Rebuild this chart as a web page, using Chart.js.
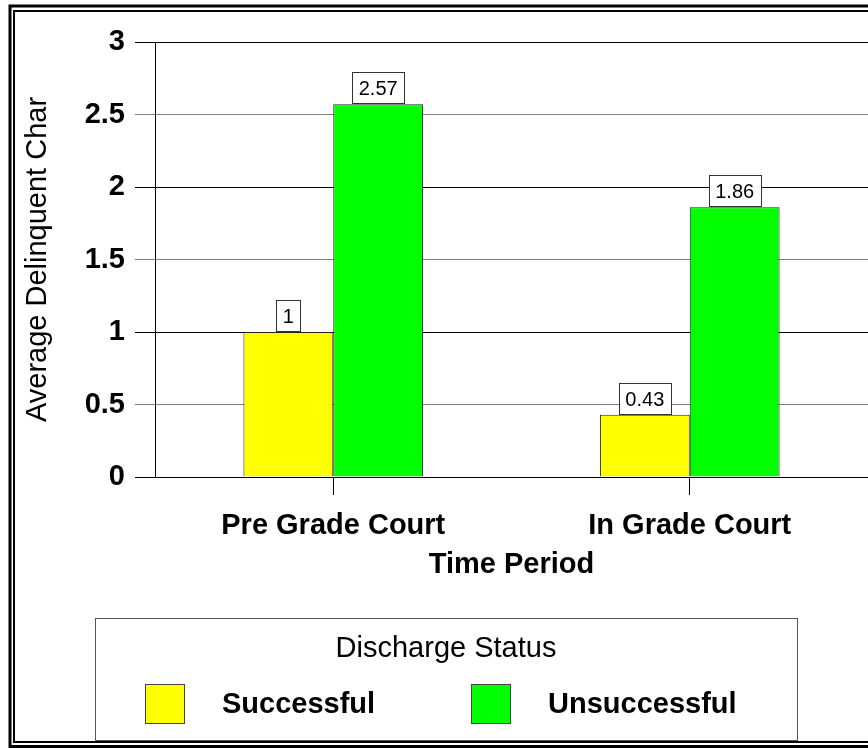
<!DOCTYPE html>
<html>
<head>
<meta charset="utf-8">
<script src="https://cdn.jsdelivr.net/npm/chart.js@4/dist/chart.umd.min.js"></script>
<style>
  html, body { margin: 0; padding: 0; background: #ffffff; }
  canvas { display: block; }
</style>
</head>
<body>
<canvas id="chart" width="868" height="748"></canvas>
<script>
// Average delinquent charges by time period and discharge status
const categories = ['Pre Grade Court', 'In Grade Court'];
const seriesNames = ['Successful', 'Unsuccessful'];
const successfulValues = [1, 0.43];
const unsuccessfulValues = [2.57, 1.86];
const yTickValues = [0, 0.5, 1, 1.5, 2, 2.5, 3];
const seriesColors = ['#ffff00', '#00ff00'];

const FONT = "'Liberation Sans', Arial, Helvetica, sans-serif";

// Double frame around the whole figure
const framePlugin = {
  id: 'frame',
  afterDraw(chart) {
    const ctx = chart.ctx;
    ctx.save();
    ctx.strokeStyle = '#000';
    ctx.lineWidth = 3;
    ctx.strokeRect(10, 6, 880, 740.5);
    ctx.lineWidth = 2;
    ctx.strokeRect(14, 11, 880, 731);
    ctx.restore();
  }
};

// Boxed value labels sitting on top of each bar
const valueBoxPlugin = {
  id: 'valueBoxes',
  afterDatasetsDraw(chart) {
    const ctx = chart.ctx;
    ctx.save();
    ctx.font = '20px ' + FONT;
    ctx.textAlign = 'center';
    ctx.textBaseline = 'middle';
    chart.data.datasets.forEach((ds, di) => {
      const meta = chart.getDatasetMeta(di);
      meta.data.forEach((bar, i) => {
        const text = String(ds.data[i]);
        const w = Math.round(ctx.measureText(text).width) + 13;
        const h = 31;
        const x = Math.round(bar.x - w / 2) + 0.5;
        const y = Math.round(bar.y) - 1 - h + 0.5;
        ctx.fillStyle = '#ffffff';
        ctx.fillRect(x, y, w, h);
        ctx.strokeStyle = '#333';
        ctx.lineWidth = 1;
        ctx.strokeRect(x, y, w, h);
        ctx.fillStyle = '#000';
        ctx.fillText(text, bar.x, y + h / 2 + 1);
      });
    });
    ctx.restore();
  }
};

// Framed legend with a title, below the axis title
const boxLegendPlugin = {
  id: 'boxLegend',
  afterDraw(chart) {
    const ctx = chart.ctx;
    const box = { left: 95, top: 618, right: 797, bottom: 740 };
    ctx.save();
    ctx.strokeStyle = '#555';
    ctx.lineWidth = 1;
    ctx.strokeRect(box.left + 0.5, box.top + 0.5, box.right - box.left, box.bottom - box.top);
    ctx.fillStyle = '#000';
    ctx.textBaseline = 'middle';
    ctx.textAlign = 'center';
    ctx.font = '29px ' + FONT;
    ctx.fillText('Discharge Status', (box.left + box.right) / 2, 649);
    const swatchX = [145, 471];
    ctx.font = 'bold 29px ' + FONT;
    ctx.textAlign = 'left';
    chart.data.datasets.forEach((ds, i) => {
      const sx = swatchX[i];
      ctx.fillStyle = ds.backgroundColor;
      ctx.fillRect(sx + 0.5, 684.5, 39, 39);
      ctx.strokeStyle = '#444';
      ctx.strokeRect(sx + 0.5, 684.5, 39, 39);
      ctx.fillStyle = '#000';
      ctx.fillText(ds.label, sx + 77, 705);
    });
    ctx.restore();
  }
};

new Chart(document.getElementById('chart'), {
  type: 'bar',
  data: {
    labels: categories,
    datasets: [
      {
        label: seriesNames[0],
        data: successfulValues,
        backgroundColor: seriesColors[0],
        borderColor: '#222',
        borderWidth: 1
      },
      {
        label: seriesNames[1],
        data: unsuccessfulValues,
        backgroundColor: seriesColors[1],
        borderColor: '#222',
        borderWidth: 1
      }
    ]
  },
  options: {
    responsive: false,
    animation: false,
    devicePixelRatio: 1,
    layout: { padding: { left: 0, right: 0, top: 42, bottom: 158 } },
    datasets: {
      bar: { categoryPercentage: 0.504, barPercentage: 1 }
    },
    plugins: {
      legend: { display: false },
      tooltip: { enabled: false }
    },
    scales: {
      x: {
        afterFit(scale) { scale.height = 113; },
        grid: {
          display: true,
          drawOnChartArea: false,
          offset: false,
          tickLength: 18,
          color: '#000'
        },
        border: { display: true, color: '#000' },
        ticks: {
          color: '#000',
          padding: 14,
          maxRotation: 0,
          font: { family: FONT, size: 29, weight: 'bold' }
        },
        title: {
          display: true,
          text: 'Time Period',
          color: '#000',
          padding: { top: 0, bottom: 8 },
          font: { family: FONT, size: 29, weight: 'bold' }
        }
      },
      y: {
        min: 0,
        max: 3,
        afterFit(scale) { scale.width = 155; },
        afterBuildTicks(scale) {
          scale.ticks = yTickValues.map(v => ({ value: v }));
        },
        grid: {
          tickLength: 20,
          lineWidth: 1,
          color: ctx => (ctx.tick && ctx.tick.value % 1 !== 0) ? '#808080' : '#000'
        },
        border: { display: true, color: '#000' },
        ticks: {
          color: '#000',
          padding: 10,
          callback: v => String(v),
          font: { family: FONT, size: 29, weight: 'bold' }
        },
        title: {
          display: true,
          text: 'Average Delinquent Char',
          color: '#000',
          padding: { top: 21, bottom: 0 },
          font: { family: FONT, size: 29, weight: 'normal' }
        }
      }
    }
  },
  plugins: [valueBoxPlugin, boxLegendPlugin, framePlugin]
});
</script>
</body>
</html>
